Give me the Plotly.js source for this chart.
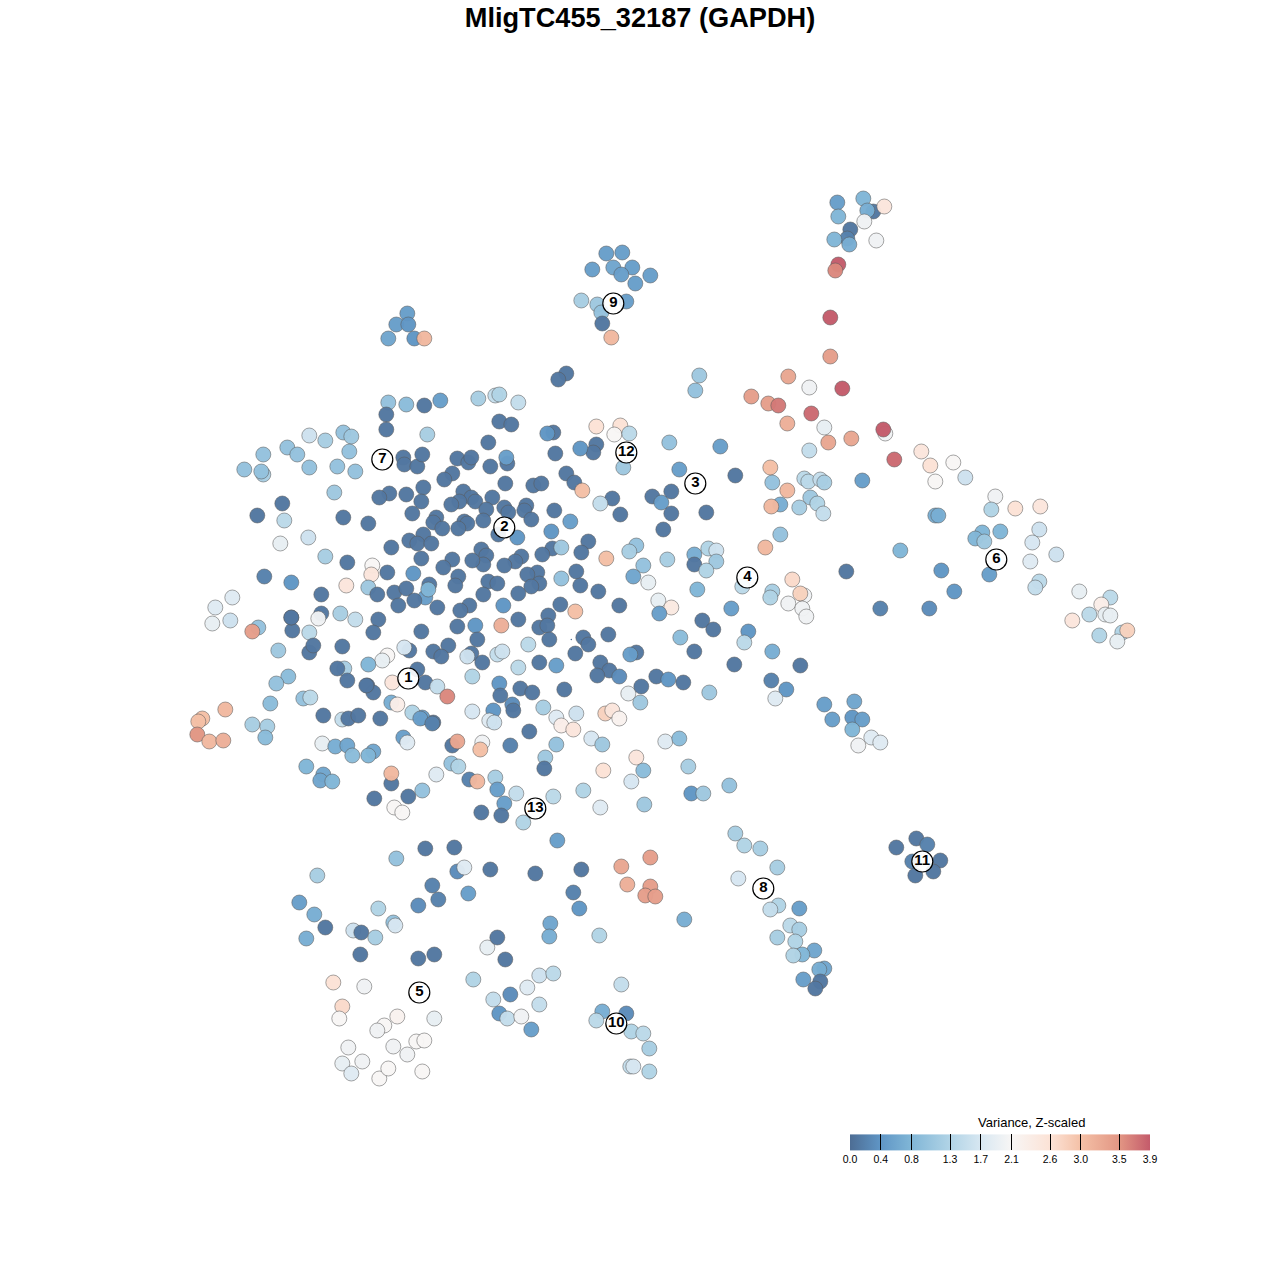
<!DOCTYPE html>
<html><head><meta charset="utf-8">
<script src="https://cdn.plot.ly/plotly-3.0.1.min.js"></script>
<style>html,body{margin:0;padding:0;background:#fff}#c{width:1280px;height:1280px}</style>
</head><body><div id="c"></div>
<script>
const chartTitle = "MligTC455_32187 (GAPDH)";
const legendTitle = "Variance, Z-scaled";
const tickVals = [0,0.4,0.8,1.3,1.7,2.1,2.6,3.0,3.5,3.9];
const tickText = ["0.0","0.4","0.8","1.3","1.7","2.1","2.6","3.0","3.5","3.9"];
const colorStops = [[0,"#4d6d94"],[0.1,"#5f95c5"],[0.2,"#7fb5d6"],[0.33,"#b0d3e6"],[0.44,"#d9e8f2"],[0.54,"#f8f6f5"],[0.67,"#fce2d5"],[0.77,"#f4c0a6"],[0.9,"#e29583"],[1,"#c45b6b"]];

const labelX = [408,504,695,747,419,996,382,763,613,616,922,626,535];
const labelY = [678,527,483,577,992,559,459,888,303,1023,861,452,808];
const labelText = ["1","2","3","4","5","6","7","8","9","10","11","12","13"];
const specX = [571];
const specY = [639];

const xs = [
863,837,873,867,884,838,864,850,847,834,849,876,838,835,
830,830,842,809,788,751,768,778,811,787,824,828,851,885,883,894,809,
606,622,592,613,632,621,650,635,581,597,626,601,602,611,
407,396,408,388,414,424,566,558,699,695,
388,406,424,440,386,386,478,495,499,518,499,511,427,488,
553,547,596,620,614,629,596,593,580,555,669,720,
403,404,417,422,457,468,471,490,507,506,623,566,574,582,452,444,
505,533,541,423,389,379,406,421,463,471,459,451,475,492,
504,508,486,526,524,531,554,612,600,620,412,436,433,442,
464,467,458,483,368,570,551,498,517,423,409,417,431,391,
588,581,552,561,542,521,515,504,481,486,483,472,452,443,421,606,
636,629,643,633,576,561,537,527,539,531,580,598,518,488,497,
458,455,483,413,387,372,371,368,377,394,406,429,425,428,414,398,437,
469,460,503,548,560,619,575,539,547,518,501,475,457,378,373,421,
549,477,608,583,588,528,409,404,387,382,448,433,441,471,467,497,502,
575,636,630,368,482,539,556,600,609,597,619,518,472,417,392,425,437,447,
367,373,499,500,520,532,564,628,
656,668,683,641,640,543,512,513,493,472,489,494,433,422,
556,561,573,576,605,612,619,591,602,529,510,482,480,452,457,556,545,544,
665,679,636,603,643,631,688,451,458,436,469,477,495,497,422,516,553,583,
504,481,501,523,600,644,691,703,557,729,
212,230,258,252,292,291,309,278,309,313,342,344,337,288,276,347,366,
303,310,270,391,397,412,420,432,202,198,225,197,209,223,252,267,265,
323,342,348,358,380,322,335,347,352,373,368,403,407,306,323,320,332,
391,391,408,374,394,402,
309,325,343,351,287,297,263,349,244,263,261,309,337,355,334,282,257,284,
343,308,280,325,347,264,291,346,321,232,215,291,321,318,340,355,
396,425,454,490,535,581,457,464,317,432,418,438,468,299,314,306,325,353,361,
378,393,395,375,360,418,434,487,497,505,573,579,550,549,599,684,621,650,627,650,645,655,
333,364,342,339,397,384,377,434,416,424,393,407,348,342,362,351,379,388,422,
473,539,553,527,510,493,539,499,507,521,531,621,602,626,596,631,643,649,630,633,649,
735,744,760,777,738,778,770,799,790,799,777,795,814,802,793,824,819,803,820,815,
916,927,896,912,940,933,915,
735,770,772,804,808,820,824,862,787,810,817,780,771,799,823,679,671,652,661,671,706,663,
780,765,694,694,708,716,716,706,667,846,900,941,792,697,648,742,772,770,804,800,788,802,806,
658,671,659,731,702,713,880,929,954,748,744,680,694,772,734,800,771,786,775,709,
824,854,832,852,862,852,871,880,858,
921,930,953,935,965,995,1015,1040,991,935,938,1039,982,1000,975,984,1032,1056,1030,989,
1039,1035,1079,1110,1101,1089,1072,1105,1110,1122,1127,1117,1099
];
const ys = [
198,202,211,210,206,216,221,229,238,239,244,240,264,270,
317,356,388,387,376,396,403,405,413,423,427,442,438,433,429,459,450,
253,252,269,267,267,274,275,283,300,304,301,312,323,337,
313,324,324,338,338,338,373,379,375,390,
402,404,405,400,414,429,398,395,394,402,421,424,434,442,
432,433,426,425,434,433,444,452,448,453,442,446,
457,464,466,454,458,462,457,466,463,457,467,473,482,490,473,479,
483,485,483,487,493,497,494,501,491,497,501,504,501,497,
507,512,509,505,510,519,510,498,503,514,513,517,522,528,
521,523,528,520,523,521,531,534,537,534,540,543,543,547,
541,552,548,547,554,556,561,565,549,555,564,560,559,567,558,558,
545,551,565,576,571,578,572,574,583,586,585,591,593,581,583,
576,585,594,573,572,565,574,587,594,592,588,584,597,589,600,605,607,
605,610,605,615,604,605,611,627,625,619,625,625,626,619,632,631,
639,639,634,637,644,644,650,647,655,660,645,651,656,653,656,654,651,
653,652,654,664,662,662,665,662,670,675,676,667,676,669,682,682,686,696,
685,692,683,695,688,692,689,693,
676,679,682,686,702,707,704,710,710,711,720,722,722,717,
717,725,729,713,713,710,718,738,744,731,745,742,749,745,741,744,757,768,
741,738,757,770,770,781,766,763,766,774,779,781,777,789,790,793,796,790,
803,812,815,822,807,804,793,793,840,785,
623,620,627,631,630,617,632,650,652,645,646,668,668,676,683,680,685,
698,697,703,702,704,712,718,723,718,721,709,734,741,740,724,726,737,
715,719,718,715,718,743,746,745,755,751,755,737,742,766,774,780,781,
783,773,796,798,807,812,
435,440,432,436,447,454,454,451,469,474,471,467,466,471,492,503,515,520,
517,537,543,556,562,576,582,585,594,597,607,617,613,618,613,619,
858,848,847,869,873,869,871,867,875,885,905,899,893,902,914,938,927,930,932,
908,922,925,937,954,958,954,947,937,959,892,908,923,936,935,919,866,857,884,886,895,896,
982,986,1006,1018,1016,1025,1030,1018,1041,1040,1046,1054,1047,1063,1061,1073,1078,1068,1071,
979,975,973,987,994,999,1004,1013,1018,1016,1029,984,1011,1013,1020,1031,1033,1048,1066,1066,1071,
833,845,848,867,878,905,909,908,925,929,937,941,950,954,955,968,969,979,981,988,
838,844,847,861,860,871,875,
475,467,482,478,481,479,482,480,490,497,503,504,506,507,513,469,491,496,502,513,512,529,
534,547,554,564,548,550,561,570,559,571,550,570,579,589,582,586,591,597,595,593,603,608,616,
600,607,613,608,620,629,608,608,591,631,642,637,651,651,664,665,680,689,698,692,
704,701,719,717,719,729,737,742,745,
451,465,462,481,477,496,508,506,509,515,515,529,532,531,538,541,542,554,561,574,
581,587,591,597,604,614,620,614,615,632,630,641,635
];
const vals = [
.8,.5,.1,.7,2.5,.8,2,.1,.2,.8,.7,2,3.9,3.6,
3.9,3.4,3.9,2,3.3,3.4,3.4,3.7,3.8,3.2,1.9,3.3,3.3,2,3.9,3.8,1.5,
.5,.5,.5,.6,.5,.5,.5,.5,1.2,1.1,.5,1,.1,3.1,
.5,.5,.4,.6,.4,3.1,.1,.1,1.1,1,
1,.9,.1,.5,.1,.1,1.2,1.5,1.3,1.5,.1,.1,1.2,.1,
.1,.4,2.6,2.6,2.1,1.4,.1,.1,.4,.1,1,.5,
.1,.1,.1,.1,.1,.1,.1,.1,.1,.5,1.1,.1,.1,3,.1,.1,
.1,.1,.1,.1,.1,.1,.1,.1,.1,.1,.1,.1,.1,.1,
.1,.1,.1,.1,.1,.1,.1,.1,1.5,.1,.1,.1,.1,.1,
.1,.1,.1,.1,.1,.5,.4,.1,.4,.1,.1,.1,.1,.1,
.1,.1,.1,1.1,.1,.1,.1,.1,.1,.1,.1,.1,.1,.1,.1,3,
1,1.2,1,.6,.1,1,.1,.1,.1,.1,.1,.1,.1,.1,.1,
.1,.1,.1,.4,.1,2.1,2.5,1.1,.1,.1,.1,.1,.5,.8,.1,.1,.1,
.1,.1,.4,.1,.1,.1,3,.1,.1,.1,3.2,.4,.1,.1,.1,.1,
.1,.1,.1,.1,.1,1.4,.1,1.7,2.1,1.9,.1,.1,.1,.1,1.6,1.5,1.6,
.1,.1,.5,.8,.1,.1,.5,.1,.1,.1,.3,1.4,1.3,.1,2.5,.1,1.5,3.6,
.1,.1,.4,.1,.1,.1,.1,1.9,
.1,.4,.1,.1,1.1,1.2,.3,.1,.4,1.7,1.8,1.6,.1,.5,
1.8,2.3,2.5,1.6,2.8,2.5,2.2,1.7,1.1,.1,.2,2,3,.1,3.3,1,1.1,.1,
1.8,.9,2.5,2.6,.9,1.7,1.2,1,1.3,1.8,.2,3.1,1.2,.5,1,1.5,1.4,1.3,
.5,.1,.1,1.3,1.8,1.1,.4,1.1,.5,1,
1.9,1.6,1,3.4,.1,.1,1.4,1.1,.1,.1,.1,1.2,.1,.9,1,.1,.1,
1,1.4,.9,.7,2.3,1.3,.5,.2,3,3,3.1,3.5,3.1,3.2,1.2,1.2,.9,
.1,1.5,.1,.1,.1,1.9,.7,.6,.9,.6,.8,.5,1.8,.8,.6,.6,.8,
.1,3.1,.1,.1,2.1,2.1,
1.6,1.2,1,1.1,1,1,1,1,1,1.2,1,1,1,1,1.1,.1,.1,1.4,
.1,1.6,1.9,1.2,.1,.2,.4,2.5,.1,1.8,1.8,.1,.1,2,1.2,1.5,
1,.1,.1,.1,.1,.1,.3,1.8,1.2,.2,.3,.2,.5,.5,.7,.7,.1,1.6,.1,
1.3,1,1.7,1.2,.1,.1,.1,1.9,.1,.1,.2,.4,.6,.7,1.3,.7,3.3,3.4,3.2,3.4,3.4,3.4,
2.6,2,2.7,2.1,2.2,2.1,2,1.9,2.1,2.1,2,2,2,1.9,2,1.8,2.1,2.1,2.1,
1.3,1.6,1.4,1.8,.3,1.5,1.5,.4,1.5,2,.5,1.5,.7,.3,1.4,1.3,1.4,1.2,1.5,1.7,1.3,
1.2,1.3,1.2,1.2,1.7,1.3,1.5,.5,1.4,1.2,1.2,1.3,.6,.8,1.3,.6,.7,.5,.1,.1,
.1,.2,.1,.2,.1,.1,.1,
.1,3,1,1.4,1.4,1.5,1.2,.5,3.1,1.1,1.3,.7,3.1,1.2,1.5,.5,.1,.1,.5,.1,.1,.1,
1,3.1,.7,.1,1.3,1.6,1.1,1.3,1.2,.1,.8,.4,2.7,.8,1.9,1.4,1.2,1.3,2,2.8,2,2,2,
1.9,2.4,.5,.5,.1,.1,.2,.3,.4,.4,1.4,.9,.1,.7,.1,.1,.2,.4,1.8,1.1,
.5,.6,.5,.4,.5,.8,1.8,1.8,2,
2.5,2.6,2.1,2.1,1.6,2,2.6,2.5,1.3,.7,.7,1.6,.8,.8,.8,1.1,1.7,1.6,1.8,.5,
1.4,1.5,1.9,1.4,2.3,1.4,2.5,1.9,1.9,1.3,2.8,1.9,1.3
];
const n = Math.min(xs.length, ys.length, vals.length);

const font = "Liberation Sans, Arial, sans-serif";
Plotly.newPlot("c", [
  {type:"scatter", mode:"markers", x:xs.slice(0,n), y:ys.slice(0,n), hoverinfo:"skip", showlegend:false,
   marker:{size:15, color:vals.slice(0,n), cmin:0, cmax:3.9, colorscale:colorStops, opacity:0.97,
     line:{width:1, color:"rgba(90,90,90,0.55)"},
     colorbar:{orientation:"h", x:850/1280, xanchor:"left", y:1-1181.7/1280, yanchor:"bottom",
       len:300, lenmode:"pixels", thickness:16, thicknessmode:"pixels", outlinewidth:0, xpad:0, ypad:0,
       tickmode:"array", tickvals:tickVals, ticktext:tickText, ticks:"inside", ticklen:16, tickwidth:1, tickcolor:"#000",
       tickfont:{family:font, size:10.5, color:"#000"}}}},
  {type:"scatter", mode:"markers", x:specX, y:specY, hoverinfo:"skip", showlegend:false,
   marker:{size:1.5, color:"#4d6d94", line:{width:0}}},
  {type:"scatter", mode:"markers+text", x:labelX, y:labelY, text:labelText, textposition:"middle center", hoverinfo:"skip", showlegend:false,
   marker:{size:21, color:"rgba(255,255,255,0.9)", line:{width:1.2, color:"#000"}},
   textfont:{family:font, size:15, color:"#000", weight:"bold"}}
], {
  width:1280, height:1280, margin:{l:0,r:0,t:0,b:0,autoexpand:false}, paper_bgcolor:"#fff", plot_bgcolor:"#fff", showlegend:false,
  title:{text:chartTitle, x:0.5, xanchor:"center", y:1-17/1280, yanchor:"middle", font:{family:font, size:27.2, color:"#000", weight:"bold"}},
  xaxis:{range:[-0.3,1279.7], visible:false, fixedrange:true},
  yaxis:{range:[1279.5,-0.5], visible:false, fixedrange:true},
  annotations:[{text:legendTitle, xref:"paper", yref:"paper", x:1031/1280, y:1-1122/1280, xanchor:"center", yanchor:"middle", showarrow:false,
    font:{family:font, size:13, color:"#000"}}]
}, {displayModeBar:false, staticPlot:true});
</script></body></html>
